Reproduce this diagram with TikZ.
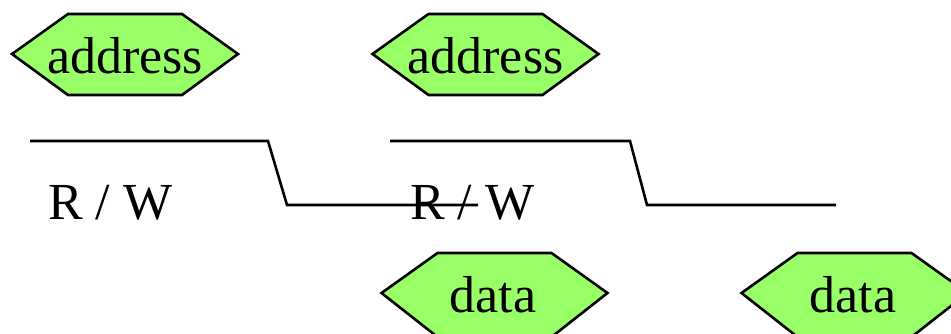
\documentclass[tikz,border=0pt]{standalone}
\usepackage{fontspec}
\setmainfont{Liberation Serif}
\begin{document}
\begin{tikzpicture}[x=1pt,y=-1pt,
  busfill/.style={fill={rgb,255:red,153;green,255;blue,102}, draw=black, line width=2.6pt, line join=miter},
  wave/.style={draw=black, line width=2.6pt},
  lbl/.style={font=\fontsize{52}{52}\selectfont, inner sep=0pt, anchor=base}]
\useasboundingbox (0,0) rectangle (951,333);
\clip (0,0) rectangle (951,333);
% bus value cells: centre x, centre y, half height
\foreach \cx/\cy/\hh in {125/54/41, 485.5/54/41, 494.5/293/44, 854.5/293/44}{
  \path[busfill] (\cx-113,\cy) -- (\cx-57,\cy-40) -- (\cx+57,\cy-40)
     -- (\cx+113,\cy) -- (\cx+57,\cy+\hh) -- (\cx-57,\cy+\hh) -- cycle;
}
\node[lbl] (addrA) at (125,73) {address};
\node[lbl] (addrB) at (485.5,73) {address};
\node[lbl] (dataA) at (493,312) {data};
\node[lbl] (dataB) at (853,312) {data};
% read / write strobe traces
\node[lbl, anchor=base west] (rwA) at (48,219) {R / W};
\node[lbl, anchor=base west] (rwB) at (410,219) {R / W};
\coordinate (wA0) at (30,141);
\coordinate (wA1) at (268,141);
\coordinate (wA2) at (287,205);
\coordinate (wA3) at (478,205);
\coordinate (wB0) at (390,141);
\coordinate (wB1) at (630,141);
\coordinate (wB2) at (647,205);
\coordinate (wB3) at (836,205);
\draw[wave] (wA0) -- (wA1) -- (wA2) -- (wA3);
\draw[wave] (wB0) -- (wB1) -- (wB2) -- (wB3);
\end{tikzpicture}
\end{document}
